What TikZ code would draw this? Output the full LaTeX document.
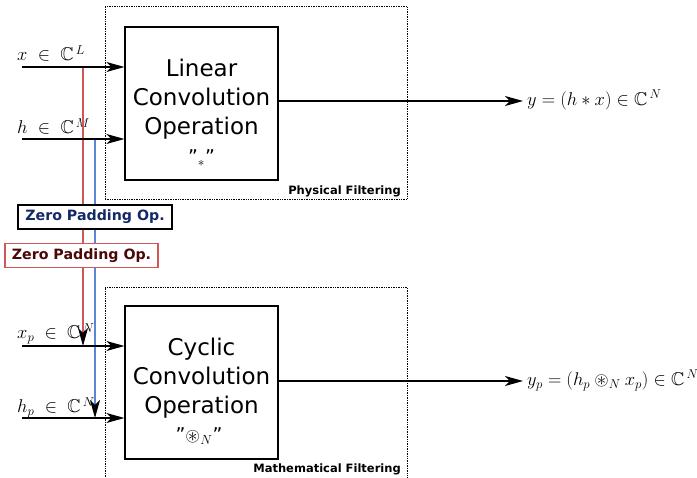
\documentclass[tikz,border=0pt]{standalone}
\usepackage{amssymb}
\usepackage{fontspec}
\setsansfont{DejaVu Sans}
\usetikzlibrary{arrows.meta}
\definecolor{redln}{HTML}{D05858}
\definecolor{blueln}{HTML}{5A86D8}
\definecolor{navytxt}{HTML}{142A66}
\definecolor{maroontxt}{HTML}{4A0808}
\begin{document}
\begin{tikzpicture}[x=1pt,y=-1pt,
  opbox/.style={draw, line width=1.2pt, minimum width=153pt, minimum height=153pt, inner sep=0pt},
  optext/.style={font=\sffamily\fontsize{23}{29}\selectfont, align=center, inner sep=0pt},
  optsym/.style={inner sep=0pt, font=\sffamily\fontsize{17.28}{20}\selectfont, scale=1.1},
  frame/.style={draw, densely dotted, line width=0.7pt, minimum width=302pt, inner sep=0pt},
  framelabel/.style={font=\sffamily\bfseries\fontsize{11.5}{13}\selectfont, inner sep=0pt, anchor=base east},
  mlabel/.style={font=\fontsize{17.28}{21}\selectfont, inner sep=0pt, anchor=base west, scale=1.07},
  arr/.style={line width=1.1pt, -{Stealth[length=18pt,width=10pt,inset=5pt,color=black]}},
  zp/.style={draw, line width=1.1pt, fill=white, font=\sffamily\bfseries\fontsize{14.2}{17}\selectfont,
             minimum height=24pt, inner xsep=4pt, inner ysep=0pt}
]
\useasboundingbox (0,0) rectangle (697,478);

% frames
\node[frame, minimum height=192.5pt] (phys) at (256,102.75) {};
\node[frame, minimum height=196pt] (math) at (256,385) {};
\node[framelabel] (physl) at (401,195) {Physical Filtering};
\node[framelabel] (mathl) at (401,472.5) {Mathematical Filtering};

% operation boxes
\node[opbox] (lin) at (201.5,103.5) {};
\node[optext] (lint) at (201.5,99) {Linear\\Convolution\\Operation};
\node[optsym] (linq) at (201.5,158) {”$_{\ast}$”};

\node[opbox] (cyc) at (201.5,382.5) {};
\node[optext] (cyct) at (201.5,378) {Cyclic\\Convolution\\Operation};
\node[optsym] (cycq) at (199,436) {”$\circledast_{N}$”};

% inputs
\coordinate (xin) at (22,67);
\coordinate (hin) at (22,139);
\coordinate (xpin) at (22,346);
\coordinate (hpin) at (22,418);
\node[mlabel] (xl) at (17,61) {$x\;\in\;\mathbb{C}^{\,L}$};
\node[mlabel] (hl) at (17,134) {$h\;\in\;\mathbb{C}^{\,M}$};
\node[mlabel] (xpl) at (17,339) {$x_p\;\in\;\mathbb{C}^{\,N}$};
\node[mlabel] (hpl) at (17,413) {$h_p\;\in\;\mathbb{C}^{\,N}$};

% zero padding connectors
\coordinate (rtop) at (83,67);
\coordinate (btop) at (95,139);
\draw[arr, redln] (rtop) -- (rtop |- xpin);
\draw[arr, blueln] (btop) -- (btop |- hpin);

\draw[arr] (xin) -- (lin.west |- xin);
\draw[arr] (hin) -- (lin.west |- hin);
\draw[arr] (xpin) -- (cyc.west |- xpin);
\draw[arr] (hpin) -- (cyc.west |- hpin);

% outputs
\coordinate (yend) at (523,101);
\coordinate (ypend) at (523,381);
\draw[arr] (lin.east |- yend) -- (yend);
\draw[arr] (cyc.east |- ypend) -- (ypend);
\node[mlabel] (yl) at (527,105.5) {$y=(h\ast x)\in\mathbb{C}^{\,N}$};
\node[mlabel] (ypl) at (527,385.5) {$y_p=(h_p\circledast_{N} x_p)\in\mathbb{C}^{\,N}$};

% zero padding boxes
\node[zp, draw=black, text=navytxt, minimum width=154pt] (zpb) at (95,217) {Zero Padding Op.};
\node[zp, draw=redln, text=maroontxt, minimum width=153pt] (zpr) at (81.5,255.5) {Zero Padding Op.};
\end{tikzpicture}
\end{document}
